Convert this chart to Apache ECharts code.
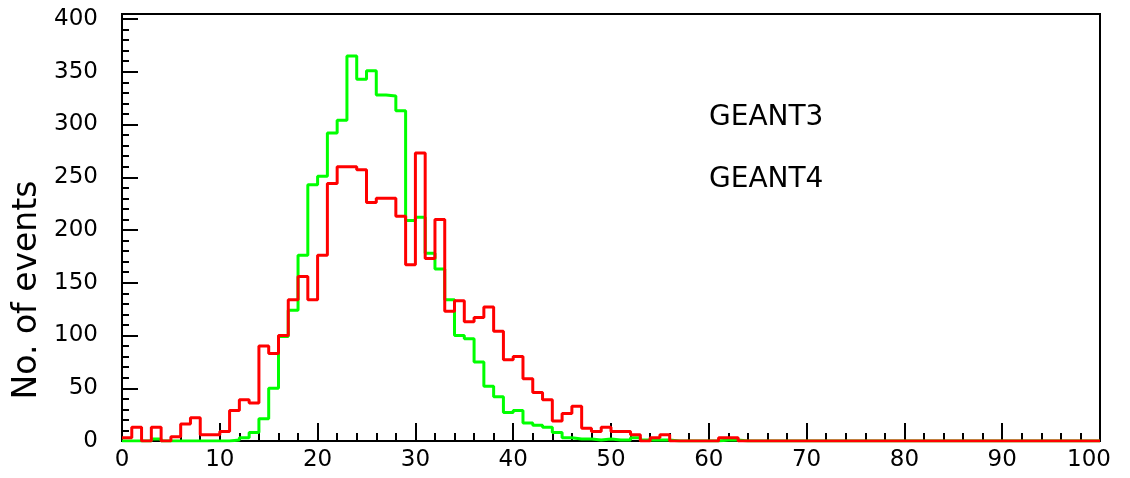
<!DOCTYPE html>
<html>
<head>
<meta charset="utf-8">
<script src="https://cdn.jsdelivr.net/npm/echarts@6/dist/echarts.min.js"></script>
<style>
  html, body { margin: 0; padding: 0; background: #fff; }
  #chart { width: 1130px; height: 478px; }
</style>
</head>
<body>
<div id="chart"></div>
<script>
// Histogram binning: 100 bins of width 1 from 0 to 100
const binLow = 0;
const binWidth = 1;

// Counts per bin
const geant3 = [
  0, 0, 0, 2, 0, 0, 0, 0, 0, 0,
  0, 1, 3, 8, 21, 50, 99, 124, 176, 243,
  251, 292, 304, 365, 343, 351, 328, 327, 313, 209,
  212, 178, 163, 134, 100, 97, 75, 52, 42, 27,
  29, 17, 15, 13, 8, 3, 2, 2, 1, 2,
  1, 1, 3, 1, 1, 1, 0, 0, 0, 0,
  0, 1, 1, 0, 0, 0, 0, 0, 0, 0,
  0, 0, 0, 0, 0, 0, 0, 0, 0, 0,
  0, 0, 0, 0, 0, 0, 0, 0, 0, 0,
  0, 0, 0, 0, 0, 0, 0, 0, 0, 0
];
const geant4 = [
  3, 13, 0, 13, 0, 4, 16, 22, 6, 6,
  9, 29, 39, 36, 90, 83, 100, 134, 156, 134,
  176, 244, 260, 260, 257, 226, 230, 230, 213, 167,
  273, 173, 210, 123, 133, 113, 117, 127, 104, 77,
  80, 59, 46, 39, 19, 26, 33, 12, 9, 13,
  9, 9, 6, 0, 3, 6, 0, 0, 0, 0,
  0, 3, 3, 0, 0, 0, 0, 0, 0, 0,
  0, 0, 0, 0, 0, 0, 0, 0, 0, 0,
  0, 0, 0, 0, 0, 0, 0, 0, 0, 0,
  0, 0, 0, 0, 0, 0, 0, 0, 0, 0
];

const seriesNames = ['GEANT3', 'GEANT4'];
const yTitle = 'No. of events';

// Turn bin counts into step-line points (left edge of each bin, plus closing right edge)
function histPoints(counts) {
  const pts = counts.map((c, i) => [binLow + i * binWidth, c]);
  pts.push([binLow + counts.length * binWidth, counts[counts.length - 1]]);
  return pts;
}

const FONT = 'DejaVu Sans';
const G = { left: 122, right: 30, top: 19, bottom: 37 };
const W = 1130, H = 478;
const frameTop = 14;

const chart = echarts.init(document.getElementById('chart'), null, { renderer: 'canvas' });

const tickStyle = { color: '#000', width: 2 };

chart.setOption({
  animation: false,
  backgroundColor: '#fff',
  grid: { left: G.left, right: G.right, top: G.top, bottom: G.bottom, show: false },
  legend: {
    data: seriesNames,
    orient: 'vertical',
    left: 704,
    top: 104,
    padding: 0,
    icon: 'none',
    itemWidth: 0,
    itemHeight: 28,
    itemGap: 34,
    selectedMode: false,
    textStyle: { fontFamily: FONT, fontSize: 28, color: '#000' }
  },
  xAxis: {
    type: 'value',
    min: 0,
    max: 100,
    interval: 10,
    axisLine: { show: true, onZero: false, lineStyle: { color: '#000', width: 2 } },
    axisTick: { show: true, inside: true, length: 18, lineStyle: tickStyle },
    minorTick: { show: true, splitNumber: 5, length: 8, lineStyle: tickStyle },
    splitLine: { show: false },
    minorSplitLine: { show: false },
    axisLabel: {
      fontFamily: FONT, fontSize: 23, color: '#000', margin: 8,
      formatter: v => (v === 100 ? '{last|100}' : String(v)),
      rich: { last: { fontFamily: FONT, fontSize: 23, color: '#000', padding: [0, 22, 0, 0] } }
    }
  },
  yAxis: {
    type: 'value',
    min: 0,
    max: 400,
    interval: 50,
    axisLine: { show: true, onZero: false, lineStyle: { color: '#000', width: 2 } },
    axisTick: { show: true, inside: true, length: 16, lineStyle: tickStyle },
    minorTick: { show: true, splitNumber: 5, length: 7, lineStyle: tickStyle },
    splitLine: { show: false },
    minorSplitLine: { show: false },
    axisLabel: { fontFamily: FONT, fontSize: 23, color: '#000', margin: 24 }
  },
  graphic: [
    {
      type: 'rect',
      z: 0,
      silent: true,
      shape: { x: G.left, y: frameTop, width: W - G.left - G.right, height: H - G.bottom - frameTop },
      style: { fill: 'none', stroke: '#000', lineWidth: 2 }
    },
    {
      type: 'text',
      silent: true,
      x: 27,
      y: 290,
      rotation: Math.PI / 2,
      style: {
        text: yTitle,
        font: '33px "' + FONT + '"',
        fill: '#000',
        align: 'center',
        verticalAlign: 'middle'
      }
    }
  ],
  series: [
    {
      name: seriesNames[0],
      type: 'line',
      step: 'end',
      symbol: 'none',
      z: 3,
      color: '#00ff00',
      lineStyle: { color: '#00ff00', width: 3 },
      data: histPoints(geant3)
    },
    {
      name: seriesNames[1],
      type: 'line',
      step: 'end',
      symbol: 'none',
      z: 4,
      color: '#ff0000',
      lineStyle: { color: '#ff0000', width: 3 },
      data: histPoints(geant4)
    }
  ]
});
</script>
</body>
</html>
